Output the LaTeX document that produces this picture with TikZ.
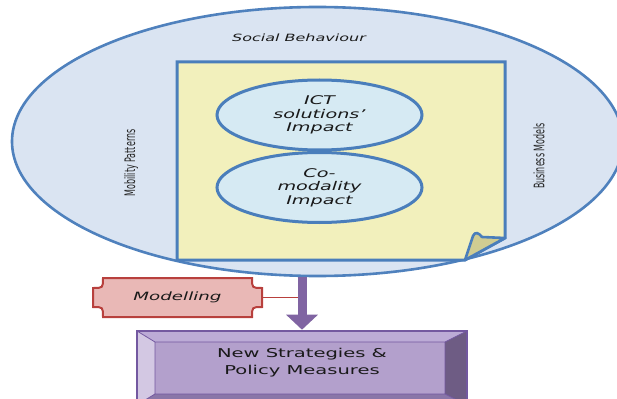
\documentclass[tikz,border=0pt]{standalone}
\usepackage{fontspec}
\setmainfont{DejaVu Sans}
\newfontfamily\widesf[FakeStretch=1.6]{DejaVu Sans}
\newfontfamily\narrowsf[FakeStretch=0.55]{DejaVu Sans}
\usetikzlibrary{shapes.geometric,arrows.meta}
\definecolor{ovalfill}{HTML}{DAE4F2}
\definecolor{ovalline}{HTML}{4F81BD}
\definecolor{noteline}{HTML}{4A7EBB}
\definecolor{notefill}{HTML}{F2F0BC}
\definecolor{foldfill}{HTML}{D0CC92}
\definecolor{bubblefill}{HTML}{D6EAF3}
\definecolor{modfill}{HTML}{E9B8B6}
\definecolor{modline}{HTML}{B8403D}
\definecolor{arrowcol}{HTML}{8064A2}
\definecolor{boxline}{HTML}{7358A0}
\definecolor{bevtop}{HTML}{BCABD6}
\definecolor{bevleft}{HTML}{D3C8E3}
\definecolor{bevright}{HTML}{6E5C84}
\definecolor{bevbot}{HTML}{8A76A8}
\definecolor{facefill}{HTML}{B3A0CC}
\tikzset{
  bubble/.style={ellipse,draw=noteline,fill=bubblefill,line width=3pt,minimum width=205,minimum height=70,inner sep=0pt,align=center,text=black!90,font=\widesf\itshape\fontsize{12}{13.5}\selectfont},
  sidelabel/.style={rotate=90,text=black!85,font=\narrowsf\fontsize{14.5}{16}\selectfont}
}
\begin{document}
\begin{tikzpicture}[x=1pt,y=-1pt,line width=2.6pt]
\clip (0,0) rectangle (617,398);
\fill[white] (0,0) rectangle (617,398);
\node[ellipse,draw=ovalline,fill=ovalfill,minimum width=611,minimum height=269,inner sep=0pt] (soc) at (317.5,141.5) {};
\node[text=black!90,font=\widesf\itshape\fontsize{10}{12}\selectfont] (socl) at (299,38) {Social Behaviour};
\node[sidelabel] (mob) at (131,163) {Mobility Patterns};
\node[sidelabel] (bus) at (539,156) {Business Models};
\draw[draw=noteline,fill=notefill,line width=3pt] (177,62) -- (505,62) -- (505,238) -- (465,260) -- (177,260) -- cycle;
\draw[draw=noteline,fill=foldfill,line join=round] (465,260) -- (473,236) .. controls (475,231) and (479,233) .. (482,237) -- (505,238) -- cycle;
\node[bubble] (ict) at (319.5,115) {ICT\\solutions’\\Impact};
\node[bubble] (co) at (319.5,187.5) {Co-\\modality\\Impact};
\draw[modline,fill=modfill,line width=2pt] (103,278) -- (252,278) .. controls (252,288) .. (262,288) -- (262,307)
  .. controls (252,307) .. (252,317) -- (103,317) .. controls (103,307) .. (93,307) -- (93,288) .. controls (103,288) .. (103,278) -- cycle;
\node[minimum width=169,minimum height=39,inner sep=0pt,text=black!90,font=\widesf\itshape\fontsize{11.4}{13}\selectfont] (model) at (177.5,297.5) {Modelling};
\coordinate (tap) at (302,297.5);
\draw[modline,line width=.7pt] (model.east) -- (tap);
\fill[bevtop] (137,331) -- (467,331) -- (445,342) -- (155,342) -- cycle;
\fill[bevleft] (137,331) -- (155,342) -- (155,394) -- (137,405) -- cycle;
\fill[bevright] (467,331) -- (467,405) -- (445,394) -- (445,342) -- cycle;
\fill[bevbot] (137,405) -- (155,394) -- (445,394) -- (467,405) -- cycle;
\fill[facefill] (155,342) rectangle (445,394);
\draw[boxline,line width=.8pt] (155,342) rectangle (445,394)
  (137,331) -- (155,342) (467,331) -- (445,342) (137,405) -- (155,394) (467,405) -- (445,394);
\draw[boxline,line width=2.4pt] (137,331) rectangle (467,405);
\node[minimum width=330,minimum height=64,inner sep=0pt,align=center,text=black!90,font=\widesf\fontsize{12.2}{17}\selectfont] (policy) at (302,363) {New Strategies \&\\Policy Measures};
\draw[arrowcol,line width=9pt,-{Triangle[width=31pt,length=15pt]}] (policy.north |- soc.south) -- (policy.north);
\end{tikzpicture}
\end{document}
